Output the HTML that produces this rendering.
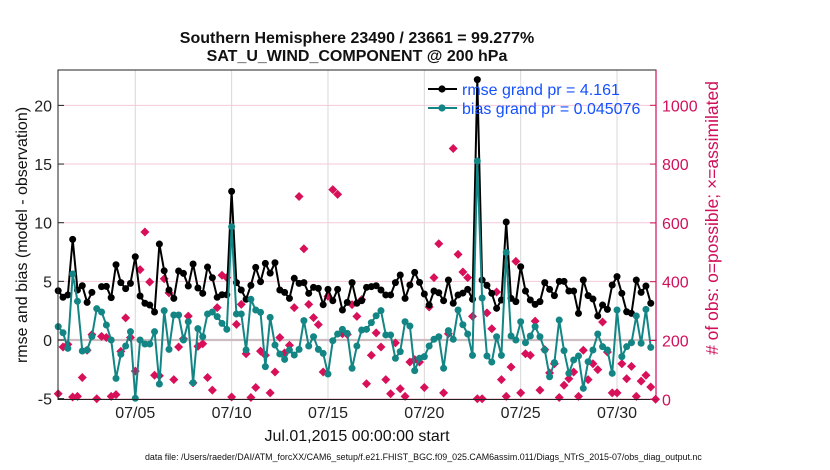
<!DOCTYPE html>
<html><head><meta charset="utf-8"><style>
body{margin:0;background:#fff;}
svg{display:block;font-family:"Liberation Sans",Arial,sans-serif;}
</style></head><body>
<svg id="chart" width="830" height="470" viewBox="0 0 830 470" xmlns="http://www.w3.org/2000/svg">
<g id="grid"></g>
<line x1="58" y1="340" x2="657" y2="340" stroke="#cdbcc0" stroke-width="2.2"/>
<g id="obs"></g>
<g id="rmse"></g>
<g id="bias"></g>
<rect x="58" y="70" width="598" height="329.5" fill="none" stroke="#222" stroke-width="1"/>
<line x1="656" y1="70" x2="656" y2="399.5" stroke="#d0105a" stroke-width="1.2"/>
<g id="axes"></g>
<text x="357" y="43" text-anchor="middle" font-size="16" font-weight="bold" fill="#111">Southern Hemisphere 23490 / 23661 = 99.277%</text>
<text x="357" y="61" text-anchor="middle" font-size="16" font-weight="bold" fill="#111">SAT_U_WIND_COMPONENT @ 200 hPa</text>
<text transform="translate(27,235) rotate(-90)" text-anchor="middle" font-size="16" fill="#111">rmse and bias (model - observation)</text>
<text transform="translate(718,218) rotate(-90)" text-anchor="middle" font-size="17.5" fill="#d0105a"># of obs: o=possible; ×=assimilated</text>
<text x="357" y="441" text-anchor="middle" font-size="16" fill="#111">Jul.01,2015 00:00:00 start</text>
<text x="145" y="460" font-size="8.9" fill="#111">data file: /Users/raeder/DAI/ATM_forcXX/CAM6_setup/f.e21.FHIST_BGC.f09_025.CAM6assim.011/Diags_NTrS_2015-07/obs_diag_output.nc</text>
<g>
<line x1="428" y1="89" x2="457" y2="89" stroke="#000" stroke-width="2"/><circle cx="442" cy="89" r="3.6" fill="#000"/>
<text x="462" y="95" font-size="16" fill="#1450ff">rmse grand pr = 4.161</text>
<line x1="428" y1="108" x2="457" y2="108" stroke="#138584" stroke-width="2"/><circle cx="442" cy="108" r="3.6" fill="#138584"/>
<text x="462" y="114" font-size="16" fill="#1450ff">bias grand pr = 0.045076</text>
</g>
</svg>
<script>
const rmseValues=[4.2,3.64,3.84,8.58,4.26,4.63,3.21,4.06,null,4.55,4.57,3.61,6.42,4.89,4.38,4.83,7.1,3.75,3.13,2.98,2.39,8.18,5.9,4.26,3.55,5.88,5.68,4.6,6.48,4.43,3.98,6.22,5.31,3.64,3.86,3.86,12.67,4.89,4.26,3.47,4.66,6.19,4.97,6.53,5.7,6.59,4.26,4.06,3.55,5.26,4.83,4.89,3.98,4.49,4.4,3.01,4.32,3.35,4.32,2.56,3.21,4.89,3.13,3.35,4.49,4.55,4.63,4.26,3.84,3.84,4.89,5.54,3.55,4.69,5.77,4.91,3.92,2.98,4.18,4.03,3.35,5.11,3.13,3.84,4.0,4.32,3.47,22.2,5.11,4.66,3.98,2.7,3.41,10.06,3.55,3.27,6.25,4.18,3.41,3.04,3.27,4.89,4.32,3.78,5.0,5.0,4.18,4.18,2.27,5.11,3.78,3.49,2.05,2.98,2.61,4.69,5.4,3.98,2.41,2.27,5.11,4.06,4.6,3.13];
const biasValues=[1.14,0.62,-0.71,5.63,3.3,-0.94,-0.85,0.3,2.67,2.39,1.28,0,-3.27,-1.22,-0.51,0.71,-4.97,0,-0.34,-0.34,0.71,-3.75,2.5,-0.8,2.13,2.13,0,1.56,-3.64,0.97,0.28,2.22,2.39,1.99,1.42,0.91,9.66,2.22,2.22,-0.85,3.47,2.56,2.36,-2.27,1.93,-0.43,-1.19,-1.65,-0.85,-1.28,-0.8,1.65,-0.51,0.28,-0.8,-1.14,-2.9,-0.06,0.51,0.91,0.57,-2.41,-0.51,0.85,0.91,1.48,2.07,2.5,0.43,0.43,-1.56,-0.99,1.56,1.19,-2.61,-1.56,-1.42,-0.51,0.06,0.28,-2.41,0.8,0.06,2.56,1.3,0.51,-1.31,15.26,3.58,-1.36,-1.88,0.28,-1.31,7.47,0.34,0,1.56,-0.23,0.34,1.14,0.28,-0.85,-3.13,-1.93,1.7,-0.91,-2.84,-1.7,-1.36,-4.12,-1.85,-0.85,0.51,-0.57,-0.85,-2.84,2.56,-1.42,-0.57,-0.23,2.05,-0.28,2.61,-0.63];
const obsCounts=[19,178,187,8,10,74,167,220,2,214,210,10,16,163,277,210,96,441,569,399,82,80,410,362,67,178,206,283,56,180,189,74,31,312,422,414,8,255,323,155,6,40,164,150,22,93,210,158,184,312,690,512,323,278,254,93,350,713,697,223,221,322,282,339,53,150,226,178,67,19,192,36,10,127,135,127,40,314,414,529,22,223,853,493,433,414,282,2,2,294,240,365,67,10,110,469,22,155,150,266,31,169,90,121,6,48,70,93,10,167,67,121,101,263,161,22,22,121,70,112,10,62,82,42,0];
const leftTicks=[-5,0,5,10,15,20];
const rightTicks=[0,200,400,600,800,1000];
const xTickDays=[4,9,14,19,24,29];
const xTickLabels=["07/05","07/10","07/15","07/20","07/25","07/30"];
const STEP=0.25;
const NS='http://www.w3.org/2000/svg';
function xDay(d){return 58.2+d*19.27;}
function yL(v){return 340-v*11.73;}
function yR(v){return 399.3-v*0.294;}
function mk(tag,attrs,parent){const e=document.createElementNS(NS,tag);for(const k in attrs)e.setAttribute(k,attrs[k]);parent.appendChild(e);return e;}
const grid=document.getElementById('grid'),axes=document.getElementById('axes');
leftTicks.forEach(t=>{
  const y=yL(t);
  if(t!==0){const g=mk('line',{x1:58,x2:656,y1:y,y2:y,stroke:'#f3c9d8','stroke-width':1},grid);
  
  }
  const tk=mk('line',{x1:58,x2:64,y1:y,y2:y,stroke:'#222'},axes);
  
  
  const tx=mk('text',{x:52,y:y+6,'text-anchor':'end','font-size':16,fill:'#222'},axes);tx.textContent=t;
  
  
});
rightTicks.forEach(t=>{
  const y=yR(t);
  const tk=mk('line',{x1:650,x2:656,y1:y,y2:y,stroke:'#d0105a'},axes);
  
  
  const tx=mk('text',{x:662,y:y+6,'font-size':16,fill:'#d0105a'},axes);tx.textContent=t;
  
  
});
xTickDays.forEach((d,i)=>{
  const x=xDay(d);
  const g=mk('line',{x1:x,x2:x,y1:70,y2:399.5,stroke:'#d8d8d8','stroke-width':1},grid);
  
  
  const tx=mk('text',{x:x,y:418,'text-anchor':'middle','font-size':16,fill:'#222'},axes);tx.textContent=xTickLabels[i];
  
  
});
const obsG=document.getElementById('obs');
obsCounts.forEach((v,i)=>{
  const x=xDay(i*STEP),y=yR(v);
  const d=mk('path',{d:`M${x} ${y-4.5}L${x+4.5} ${y}L${x} ${y+4.5}L${x-4.5} ${y}Z`,fill:'#d8105a'},obsG);
  
  
});
function series(id,vals,color){
  const g=document.getElementById(id);let path='',pen=false;
  vals.forEach((v,i)=>{if(v===null){pen=false;return;}const x=xDay(i*STEP),y=yL(v);path+=(pen?'L':'M')+x.toFixed(1)+' '+y.toFixed(1);pen=true;});
  const p=mk('path',{d:path,fill:'none',stroke:color,'stroke-width':2,'stroke-linejoin':'round'},g);
  
  
  vals.forEach((v,i)=>{if(v===null)return;
    const c=mk('circle',{cx:xDay(i*STEP),cy:yL(v),r:3.5,fill:color},g);
    
    });
}
series('rmse',rmseValues,'#000');
series('bias',biasValues,'#138584');
</script>
</body></html>
